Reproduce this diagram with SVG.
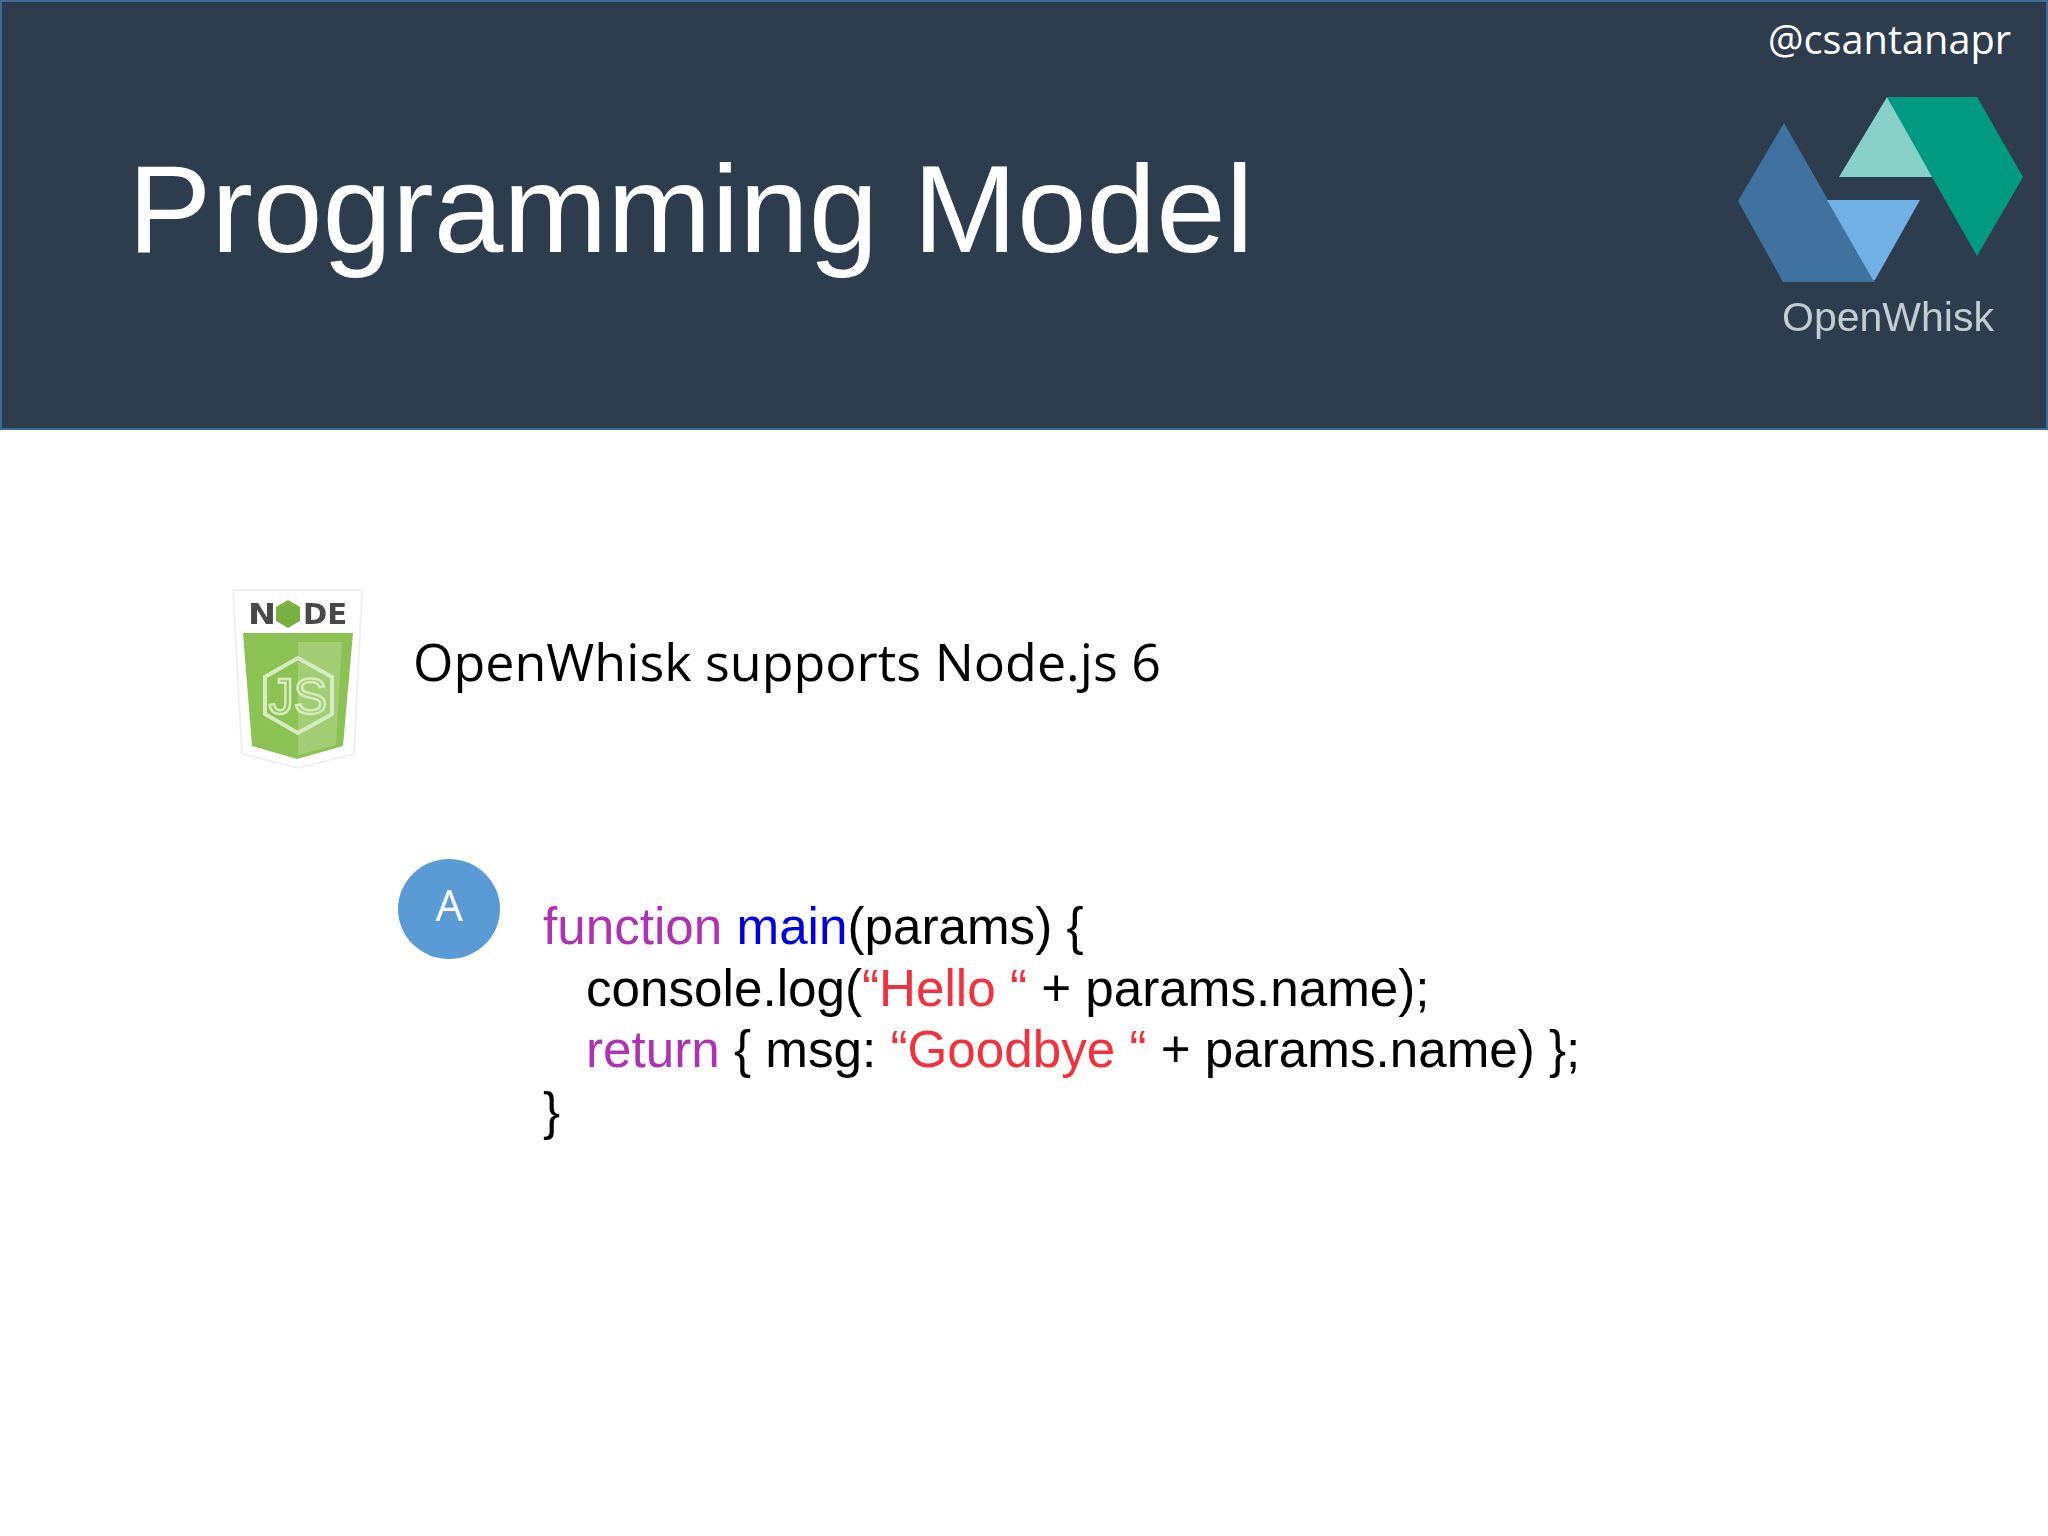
<svg xmlns="http://www.w3.org/2000/svg" width="2048" height="1536" viewBox="0 0 2048 1536">
<style>
.code{font-family:"Liberation Sans",Arial,sans-serif;font-size:51.2px;fill:#000}
.k{fill:#b032b4}.f{fill:#0000e6}.s{fill:#f5303c}
.cal{font-family:"Open Sans","Noto Sans",sans-serif}
.nd{font-family:"DejaVu Sans",sans-serif;font-weight:700;font-size:29px;fill:#4a4a48}
</style>
<defs><filter id="soft" x="-5%" y="-5%" width="110%" height="110%"><feGaussianBlur stdDeviation="0.7"/></filter></defs>
<rect width="2048" height="1536" fill="#fff"/>
<g id="header">
<rect x="1" y="1" width="2046" height="428" fill="#2e3d4e" stroke="#3f6b98" stroke-width="2"/>
<text id="title" x="128" y="252" font-family="Liberation Sans, Arial, sans-serif" font-size="125" fill="#fff">Programming Model</text>
<text id="handle" x="1768" y="54" class="cal" font-size="39.7" fill="#fff">@csantanapr</text>
</g>
<g id="logo" filter="url(#soft)">
<path d="M1784 123L1738 201L1783 282H1875L1828 200Z" fill="#3f729f"/>
<path d="M1827 200H1920L1875 280H1873Z" fill="#6fb0e4"/>
<path d="M1887 97L1839 177H1934Z" fill="#86d0c8"/>
<path d="M1887 97H1977L2023 177L1977 256L1932 177Z" fill="#009a82"/>
<text x="1782" y="331" font-family="Liberation Sans, Arial, sans-serif" font-size="41" fill="#c3ccd2">OpenWhisk</text>
</g>
<g id="node-badge" filter="url(#soft)">
<path d="M233 590H362L354 754L298 768L242 754Z" fill="#fff" stroke="#f0f0f0" stroke-width="2"/>
<path d="M243 633H353L343 746L297 759L252 746Z" fill="#8cc152"/>
<path d="M298 642H342L336 745L298 755Z" fill="#a2cd74"/>
<text x="248" y="624" class="nd" textLength="28" lengthAdjust="spacingAndGlyphs">N</text>
<path d="M288 600L300 607V621L288 628L276 621V607Z" fill="#79b042"/>
<text x="303" y="624" class="nd" textLength="44" lengthAdjust="spacingAndGlyphs">DE</text>
<path d="M298 658L332 677V714L298 733L265 714V677Z" fill="none" stroke="#d6ebc0" stroke-width="4"/>
<text x="298" y="714" text-anchor="middle" font-family="Liberation Sans, Arial, sans-serif" font-size="50" fill="none" stroke="#d6ebc0" stroke-width="2.4">JS</text>
</g>
<text id="support" x="413" y="681" class="cal" font-size="52" fill="#000">OpenWhisk supports Node.js 6</text>
<g id="badge-a">
<ellipse cx="449" cy="909" rx="51" ry="50" fill="#5b9bd5"/>
<text x="449" y="921" text-anchor="middle" class="cal" font-size="43" fill="#fff">A</text>
</g>
<g id="code">
<text class="code" x="543" y="944"><tspan class="k">function</tspan> <tspan class="f">main</tspan>(params) {</text>
<text class="code" x="586" y="1006">console.log(<tspan class="s">“Hello “</tspan> + params.name);</text>
<text class="code" x="586" y="1067"><tspan class="k">return</tspan> { msg: <tspan class="s">“Goodbye “</tspan> + params.name) };</text>
<text class="code" x="543" y="1129">}</text>
</g>
</svg>
